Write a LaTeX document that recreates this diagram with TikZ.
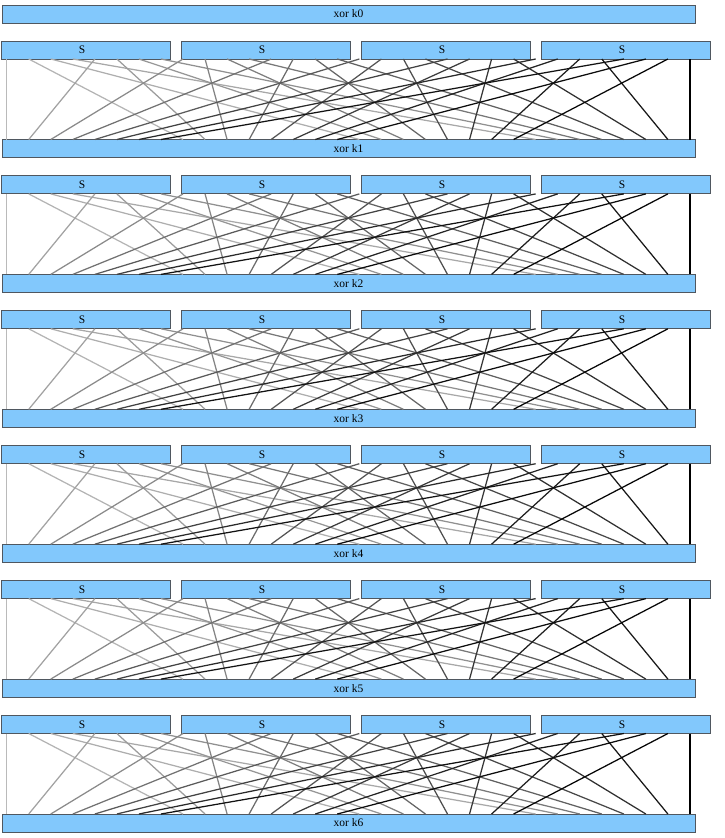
\documentclass[tikz,border=0pt]{standalone}
\usepackage{fontspec}
\setmainfont{Liberation Serif}
\definecolor{boxblue}{HTML}{82C8FC}
\definecolor{boxline}{HTML}{4F5760}
\begin{document}
\begin{tikzpicture}[x=1pt,y=-1pt,
  bar/.style={draw=boxline, fill=boxblue, line width=0.9pt, minimum height=18pt,
    inner sep=0pt, outer sep=0pt, anchor=north west, font=\fontsize{11.5}{12}\selectfont},
  lbl/.style={inner sep=0pt, font=\fontsize{11.5}{12}\selectfont},
  wire/.style={line width=1.25pt}]
\useasboundingbox (0,0) rectangle (725,838);
\node[bar, minimum width=693pt] (X0) at (2,5) {xor k0};
\foreach \r in {0,...,5} {
  \pgfmathsetmacro\yS{41+134.9*\r}
  \pgfmathsetmacro\yX{139.5+134.9*\r}
  \pgfmathtruncatemacro\n{\r+1}
  \foreach \i in {0,...,3} {
    \node[bar, minimum width=169pt] (S\r-\i) at ({1.7+180*\i},\yS) {};
    \node[lbl] (L\r-\i) at ({82+180*\i},{\yS+9}) {S};
  }
  \node[bar, minimum width=693pt] (X\n) at (2,\yX) {xor k\n};
  \foreach \k in {0,...,31} {
    \coordinate (T\r-\k) at ({6.7+22.04*\k},{\yS+18});
    \coordinate (B\r-\k) at ({6.7+22.04*\k},\yX);
  }
  \foreach \k in {0,...,31} {
    \pgfmathtruncatemacro\p{\k==31 ? 31 : mod(8*\k,31)}
    \pgfmathsetmacro\c{27+73*\k/31}
    \draw[wire, draw=black!\c!white] (T\r-\k) -- (B\r-\p);
  }
}
\end{tikzpicture}
\end{document}
